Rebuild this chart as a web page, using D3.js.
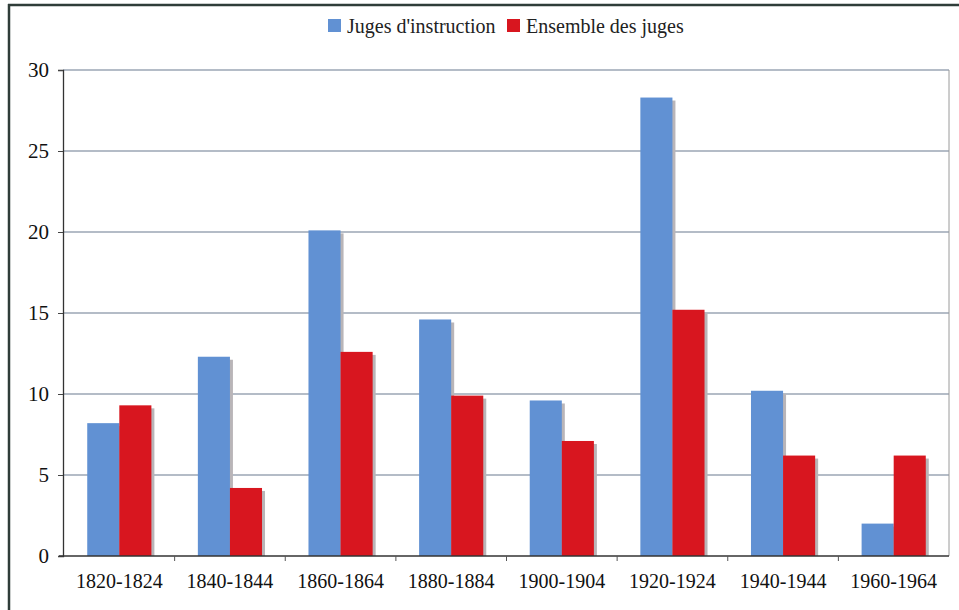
<!DOCTYPE html>
<html><head><meta charset="utf-8">
<script src="https://cdn.jsdelivr.net/npm/d3@7"></script>
<style>
html,body{margin:0;padding:0;background:#fff;}
svg{display:block;}
svg text{font-family:"Times New Roman","Liberation Serif","DejaVu Serif",serif;}
</style></head>
<body>
<svg id="chart" width="959" height="610"></svg>
<script>
const categories = ["1820-1824","1840-1844","1860-1864","1880-1884","1900-1904","1920-1924","1940-1944","1960-1964"];
const seriesNames = ["Juges d'instruction","Ensemble des juges"];
const jugesInstruction = [8.2, 12.3, 20.1, 14.6, 9.6, 28.3, 10.2, 2.0];
const ensembleJuges = [9.3, 4.2, 12.6, 9.9, 7.1, 15.2, 6.2, 6.2];
const yTicks = [0, 5, 10, 15, 20, 25, 30];
const colors = ["#6191d3", "#d8161f"];

(function () {
const svg = d3.select("#chart");
const W = 959, H = 610;
const pL = 63, pR = 949, pT = 70, pB = 556;

// frame
svg.append("line").attr("x1", 8).attr("x2", W).attr("y1", 5).attr("y2", 5)
  .attr("stroke", "#2f3d39").attr("stroke-width", 2.5);
svg.append("line").attr("x1", 9).attr("x2", 9).attr("y1", 4).attr("y2", H)
  .attr("stroke", "#2f3d39").attr("stroke-width", 2.5);

const y = d3.scaleLinear().domain([0, 30]).range([pB, pT]);
const x = d3.scaleBand().domain(categories).range([pL + 1, pR]).padding(0);
const groupW = x.bandwidth() * 0.58;
const xi = d3.scaleBand().domain(seriesNames).range([0, groupW]).padding(0);

// gridlines
svg.append("g").selectAll("line").data(yTicks.filter(t => t > 0)).join("line")
  .attr("x1", pL).attr("x2", pR)
  .attr("y1", d => y(d)).attr("y2", d => y(d))
  .attr("stroke", "#6a7a90").attr("stroke-width", 1.2);
// right border
svg.append("line").attr("x1", pR).attr("x2", pR).attr("y1", pT).attr("y2", pB)
  .attr("stroke", "#9a9a9a").attr("stroke-width", 1);

const data = categories.map((c, i) => ({cat: c, vals: [jugesInstruction[i], ensembleJuges[i]]}));
const groups = svg.append("g").selectAll("g").data(data).join("g")
  .attr("transform", d => `translate(${x(d.cat) + (x.bandwidth() - groupW) / 2},0)`);
// shadows
groups.selectAll("rect.sh").data(d => d.vals.map((v, j) => ({v, s: seriesNames[j], j}))).join("rect")
  .attr("class", "sh")
  .attr("x", d => xi(d.s) + 3).attr("y", d => y(d.v) + 3)
  .attr("width", xi.bandwidth()).attr("height", d => pB - y(d.v) - 3)
  .attr("fill", "#b9b5b8");
groups.selectAll("rect.bar").data(d => d.vals.map((v, j) => ({v, s: seriesNames[j], j}))).join("rect")
  .attr("class", "bar")
  .attr("x", d => xi(d.s)).attr("y", d => y(d.v))
  .attr("width", xi.bandwidth()).attr("height", d => pB - y(d.v))
  .attr("fill", d => colors[d.j]);

// y axis
const yAxis = d3.axisLeft(y).tickValues(yTicks).tickSize(5).tickPadding(9);
const gy = svg.append("g").attr("transform", `translate(${pL},0)`).call(yAxis);
gy.attr("font-family", null);
gy.select(".domain").attr("stroke", "#333").attr("stroke-width", 1.3);
gy.selectAll(".tick line").attr("stroke", "#444");
gy.selectAll(".tick text").attr("font-size", 21).attr("fill", "#111");

// x axis
const xAxis = d3.axisBottom(x).tickSize(0).tickPadding(18);
const gx = svg.append("g").attr("transform", `translate(0,${pB})`).call(xAxis);
gx.attr("font-family", null);
gx.select(".domain").remove();
svg.append("line").attr("x1", pL - 4).attr("x2", pR).attr("y1", pB).attr("y2", pB)
  .attr("stroke", "#333").attr("stroke-width", 1.5);
gx.selectAll(".tick text").attr("font-size", 20).attr("fill", "#111");
// category separator ticks
svg.append("g").selectAll("line").data(categories.slice(1)).join("line")
  .attr("x1", d => x(d)).attr("x2", d => x(d))
  .attr("y1", pB).attr("y2", pB + 5)
  .attr("stroke", "#555");

// legend
const legendX = [328, 507];
const lg = svg.append("g").selectAll("g").data(seriesNames).join("g")
  .attr("transform", (d, i) => `translate(${legendX[i]},19)`);
lg.append("rect").attr("width", 13).attr("height", 13).attr("fill", (d, i) => colors[i]);
lg.append("text").attr("x", 19).attr("y", 13.5).attr("font-size", 20).attr("fill", "#222")
  .text(d => d);
})();
</script>
</body></html>
